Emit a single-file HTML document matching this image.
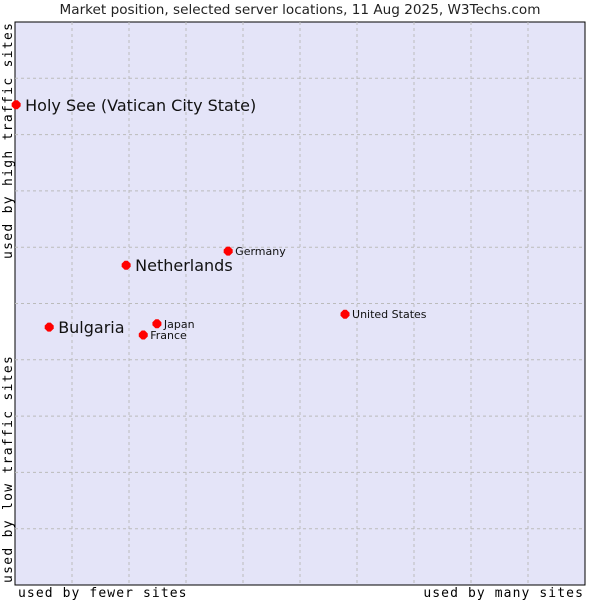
<!DOCTYPE html>
<html><head><meta charset="utf-8"><style>
body{margin:0;background:#fff;width:600px;height:600px;overflow:hidden}
</style></head><body>
<svg width="600" height="600" id="chart" font-family="DejaVu Sans, Liberation Sans, sans-serif">
<text x="300" y="14" text-anchor="middle" font-size="13.6" fill="#222">Market position, selected server locations, 11 Aug 2025, W3Techs.com</text>
<rect x="15" y="22" width="570" height="563" fill="#e4e4f8" stroke="#000" stroke-width="1"/>
<g id="grid"></g>
<g id="points"></g>
<text x="18" y="597" font-family="DejaVu Sans Mono, Liberation Mono, monospace" font-size="13" letter-spacing="1.1" fill="#000">used by fewer sites</text>
<text x="584" y="597" text-anchor="end" font-family="DejaVu Sans Mono, Liberation Mono, monospace" font-size="13" letter-spacing="1.1" fill="#000">used by many sites</text>
<text transform="translate(12,259) rotate(-90)" font-family="DejaVu Sans Mono, Liberation Mono, monospace" font-size="13" letter-spacing="1.3" fill="#000">used by high traffic sites</text>
<text transform="translate(12,583) rotate(-90)" font-family="DejaVu Sans Mono, Liberation Mono, monospace" font-size="13" letter-spacing="1.3" fill="#000">used by low traffic sites</text>
</svg>
<script>
const names = ["Holy See (Vatican City State)","Netherlands","Germany","United States","Japan","France","Bulgaria"];
const xValues = [0.2,19.5,37.4,57.9,24.9,22.5,6.0];
const yValues = [85.3,56.8,59.3,48.1,46.4,44.4,45.8];
const bigLabel = [true,true,false,false,false,false,true];
const L=15,R=585,T=22,B=585;
const sx=v=>L+v/100*(R-L);
const sy=v=>B-v/100*(B-T);
const NS="http://www.w3.org/2000/svg";
const grid=document.getElementById('grid');
for(let i=1;i<10;i++){
  const v=document.createElementNS(NS,'line');
  const x=sx(i*10);
  v.setAttribute('x1',x);v.setAttribute('x2',x);v.setAttribute('y1',T);v.setAttribute('y2',B);
  v.setAttribute('stroke','#bbb');v.setAttribute('stroke-dasharray','3,3');
  
  
  grid.appendChild(v);
  const h=document.createElementNS(NS,'line');
  const y=sy(i*10);
  h.setAttribute('x1',L);h.setAttribute('x2',R);h.setAttribute('y1',y);h.setAttribute('y2',y);
  h.setAttribute('stroke','#bbb');h.setAttribute('stroke-dasharray','3,3');
  
  
  grid.appendChild(h);
}
const pts=document.getElementById('points');
names.forEach((n,i)=>{
  const x=sx(xValues[i]),y=sy(yValues[i]);
  const d=document.createElementNS(NS,'path');
  d.setAttribute('d',`M${x-4.5},${y-1.5}L${x-1.5},${y-4.5}L${x+1.5},${y-4.5}L${x+4.5},${y-1.5}L${x+4.5},${y+1.5}L${x+1.5},${y+4.5}L${x-1.5},${y+4.5}L${x-4.5},${y+1.5}Z`);
  d.setAttribute('fill','#f00');
  
  
  pts.appendChild(d);
  const t=document.createElementNS(NS,'text');
  const big=bigLabel[i];
  t.setAttribute('x',x+(big?9:7));
  t.setAttribute('y',y+(big?6:4));
  t.setAttribute('font-size',big?16:11);
  t.setAttribute('fill','#111');
  t.textContent=n;
  
  
  pts.appendChild(t);
});
</script>
</body></html>
